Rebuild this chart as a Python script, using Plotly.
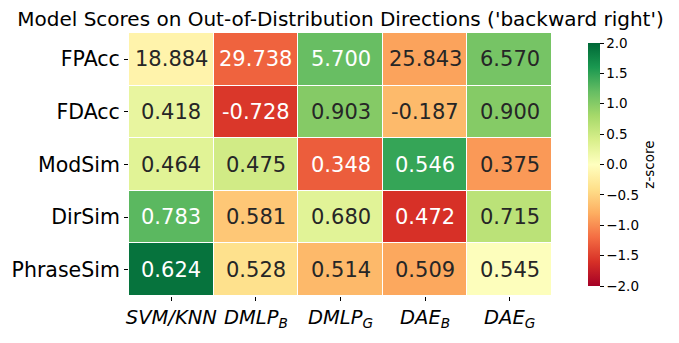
import numpy as np
import plotly.graph_objects as go
from plotly.colors import sample_colorscale, unlabel_rgb

# Raw scores per metric (rows) and model (columns)
models = ["SVM/KNN", "DMLP_B", "DMLP_G", "DAE_B", "DAE_G"]
model_labels = ["<i>SVM/KNN</i>", "<i>DMLP<sub>B</sub></i>", "<i>DMLP<sub>G</sub></i>",
                "<i>DAE<sub>B</sub></i>", "<i>DAE<sub>G</sub></i>"]
metrics = ["FPAcc", "FDAcc", "ModSim", "DirSim", "PhraseSim"]

fpacc = [18.884, 29.738, 5.700, 25.843, 6.570]
fdacc = [0.418, -0.728, 0.903, -0.187, 0.900]
modsim = [0.464, 0.475, 0.348, 0.546, 0.375]
dirsim = [0.783, 0.581, 0.680, 0.472, 0.715]
phrasesim = [0.624, 0.528, 0.514, 0.509, 0.545]

# FPAcc: lower is better, so its z-score is flipped
higher_is_better = [False, True, True, True, True]

raw = np.array([fpacc, fdacc, modsim, dirsim, phrasesim])
z = (raw - raw.mean(axis=1, keepdims=True)) / raw.std(axis=1, keepdims=True)
z = z * np.where(higher_is_better, 1, -1)[:, None]

zmin, zmax = -2.0, 2.0
scale = "RdYlGn"


def rel_lum(rgb):
    vals = []
    for c in rgb:
        c = c / 255.0
        vals.append(c / 12.92 if c <= 0.03928 else ((c + 0.055) / 1.055) ** 2.4)
    return 0.2126 * vals[0] + 0.7152 * vals[1] + 0.0722 * vals[2]


fig = go.Figure()
fig.add_trace(go.Heatmap(
    z=z, x=list(range(len(models))), y=list(range(len(metrics))),
    colorscale=scale, zmin=zmin, zmax=zmax,
    xgap=1, ygap=1, showscale=True,
    colorbar=dict(
        x=1.062, xanchor="left", y=0.5, yanchor="middle",
        len=1.0, lenmode="fraction", thickness=12, outlinewidth=0,
        tickmode="linear", tick0=-2, dtick=0.5, tickformat=".1f",
        ticks="outside", ticklen=4, tickcolor="black",
        tickfont=dict(family="DejaVu Sans", size=13.5, color="black"),
        title=dict(text="z-score", side="right",
                   font=dict(family="DejaVu Sans", size=13.5, color="black")),
    ),
    hoverinfo="skip",
))

# Cell annotations with raw values, text colour chosen from cell luminance
for i in range(len(metrics)):
    for j in range(len(models)):
        frac = (np.clip(z[i, j], zmin, zmax) - zmin) / (zmax - zmin)
        col = sample_colorscale(scale, [frac])[0]
        rgb = unlabel_rgb(col)
        tc = "#262626" if rel_lum(rgb) > 0.408 else "white"
        fig.add_annotation(x=j, y=i, text=f"{raw[i, j]:.3f}", showarrow=False,
                           font=dict(family="DejaVu Sans", size=21, color=tc))

fig.update_layout(
    width=679, height=343,
    margin=dict(l=128, r=118, t=33, b=42),
    paper_bgcolor="white", plot_bgcolor="white",
    title=dict(text="Model Scores on Out-of-Distribution Directions ('backward right')",
               x=0.5, xref="paper", xanchor="center", y=0.945, yanchor="middle",
               font=dict(family="DejaVu Sans", size=20, color="black")),
    xaxis=dict(tickmode="array", tickvals=list(range(len(models))), ticktext=model_labels,
               ticks="outside", ticklen=4, tickcolor="black", showgrid=False, zeroline=False,
               showline=False, range=[-0.5, len(models) - 0.5],
               tickfont=dict(family="DejaVu Sans", size=19.5, color="black")),
    yaxis=dict(tickmode="array", tickvals=list(range(len(metrics))), ticktext=metrics,
               ticks="outside", ticklen=4, tickcolor="black", showgrid=False, zeroline=False,
               showline=False, range=[len(metrics) - 0.5, -0.5],
               tickfont=dict(family="DejaVu Sans", size=20.5, color="black")),
)

fig.write_html("out.html")
